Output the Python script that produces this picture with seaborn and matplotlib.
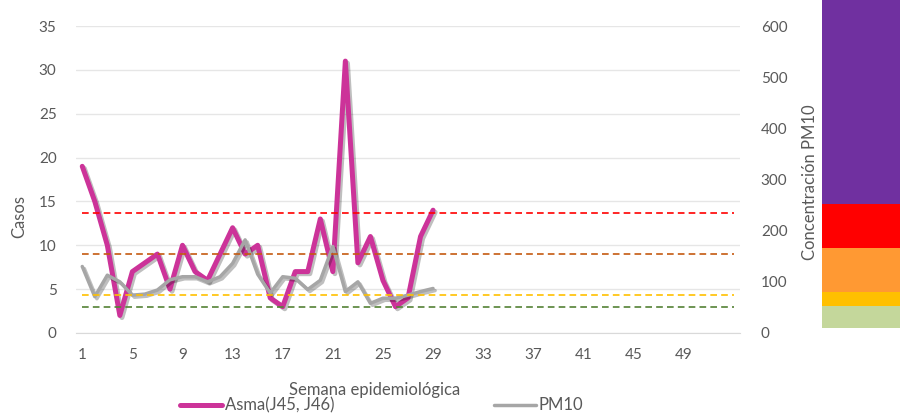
import numpy as np
import pandas as pd
import seaborn as sns
import matplotlib.pyplot as plt
import matplotlib.patheffects as pe
from matplotlib.lines import Line2D

# weekly data (weeks 1-29)
semanas = list(range(1, 30))
asma = [19, 15, 10, 2, 7, 8, 9, 5, 10, 7, 6, 9, 12, 9, 10, 4, 3, 7, 7, 13, 7, 31, 8, 11, 6, 3, 4, 11, 14]
pm10 = [130, 71, 113, 100, 74, 76, 84, 104, 110, 110, 100, 110, 136, 182, 115, 78, 110, 107, 85, 103, 169, 81, 100, 58, 68, 68, 74, 81, 87]

# PM10 thresholds (right axis) and colour bands
umbrales = [235, 155, 75, 50]
umbral_colores = ["#FF0000", "#C55A11", "#FFC000", "#548235"]
banda_limites = [0, 50, 75, 155, 235, 700]
banda_colores = ["#C4D79B", "#FFC000", "#FF9933", "#FF0000", "#7030A0"]

semanas_todas = list(range(1, 54))

sns.set_style("white")
plt.rcParams["font.family"] = ["Lato", "DejaVu Sans"]
txt = "#595959"

df = pd.DataFrame({"Semana": semanas, "Asma": asma, "PM10": pm10})

fig = plt.figure(figsize=(9, 4.17), dpi=100)
ax = fig.add_axes([76 / 900, 84 / 417, 664 / 900, 307 / 417])
ax2 = ax.twinx()

shadow = [pe.SimpleLineShadow(offset=(1.5, -1.5), alpha=0.25), pe.Normal()]

sns.lineplot(data=df, x="Semana", y="Asma", ax=ax, color="#CC3399", lw=3.6,
             path_effects=shadow, legend=False)
sns.lineplot(data=df, x="Semana", y="PM10", ax=ax2, color="#A6A6A6", lw=2.5,
             path_effects=shadow, legend=False)

for v, c in zip(umbrales, umbral_colores):
    sns.lineplot(x=semanas_todas, y=[v] * len(semanas_todas), ax=ax2, color=c,
                 lw=1.2, linestyle=(0, (4, 2.5)), legend=False)

ax.set_xlim(0.5, 53.5)
ax.set_ylim(0, 35)
ax.set_yticks(range(0, 36, 5))
ax.set_xticks(range(1, 50, 4))
ax2.set_ylim(0, 600)
ax2.set_yticks(range(0, 601, 100))

ax.grid(axis="y", color="#E6E6E6", lw=1)
ax.set_axisbelow(True)
for a in (ax, ax2):
    for s in a.spines.values():
        s.set_visible(False)
    a.tick_params(length=0, labelsize=11, colors=txt)
ax.spines["bottom"].set_visible(True)
ax.spines["bottom"].set_color("#D9D9D9")
ax.tick_params(axis="y", pad=14)
ax.tick_params(axis="x", pad=11)
ax2.tick_params(axis="y", pad=15)

ax.set_xlabel("Semana epidemiológica", fontsize=12, color=txt, va="center")
ax.xaxis.set_label_coords(0.449, -0.185)
ax.set_ylabel("Casos", fontsize=12, color=txt, va="center")
ax.yaxis.set_label_coords(-0.086, 0.378)
ax2.set_ylabel("Concentración PM10", fontsize=12, color=txt, va="center")
ax2.yaxis.set_label_coords(1.105, 0.49)

# colour scale bar on the right
axb = fig.add_axes([822 / 900, 89 / 417, 78 / 900, 328 / 417])
for i, c in enumerate(banda_colores):
    axb.bar(0, banda_limites[i + 1] - banda_limites[i], bottom=banda_limites[i],
            width=1, color=c, edgecolor="none")
axb.set_xlim(-0.5, 0.5)
axb.set_ylim(10, 606)
axb.axis("off")

handles = [Line2D([], [], color="#CC3399", lw=3.6),
           Line2D([], [], color="#A6A6A6", lw=2.5)]
fig.legend(handles, ["Asma(J45, J46)", "PM10"], loc="center",
           bbox_to_anchor=(0.424, 0.028), ncol=2, frameon=False, fontsize=12,
           handlelength=2.5, handletextpad=0.15, columnspacing=9.6,
           labelcolor=txt)

fig.savefig("out.png", dpi=100)
